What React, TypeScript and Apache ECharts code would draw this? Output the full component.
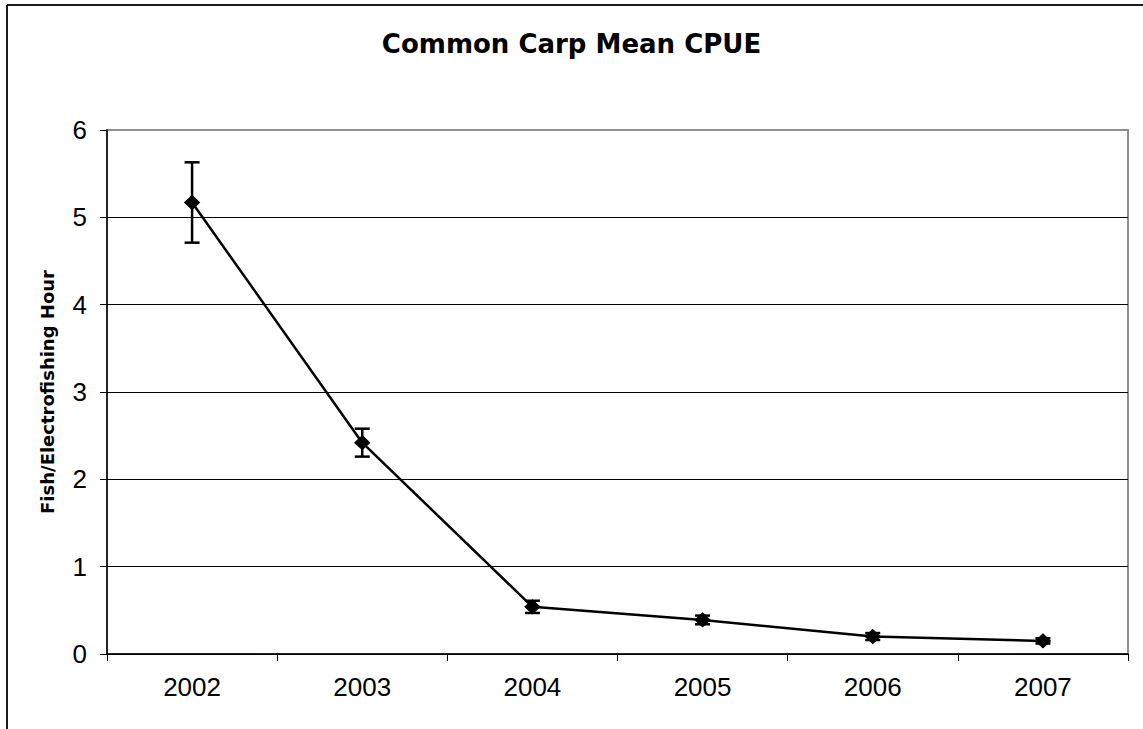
import React, { useEffect, useRef } from "react";
import * as echarts from "echarts";

const years = ["2002", "2003", "2004", "2005", "2006", "2007"];
const meanCpue = [5.17, 2.42, 0.54, 0.39, 0.2, 0.15];
const stdErr = [0.46, 0.16, 0.07, 0.05, 0.04, 0.03];
const chartTitle = "Common Carp Mean CPUE";
const yAxisTitle = "Fish/Electrofishing Hour";
const yMin = 0;
const yMax = 6;
const yStep = 1;

export default function App() {
  const ref = useRef<HTMLDivElement>(null);

  useEffect(() => {
    if (!ref.current) return;
    const chart = echarts.init(ref.current, undefined, { renderer: "svg" });
    const errData = years.map((_, i) => [i, meanCpue[i] - stdErr[i], meanCpue[i] + stdErr[i]]);

    chart.setOption({
      animation: false,
      backgroundColor: "#ffffff",
      title: {
        text: chartTitle,
        left: "center",
        top: 31,
        padding: [0, 0, 0, 14],
        textStyle: {
          fontFamily: "DejaVu Sans",
          fontWeight: "bold",
          fontSize: 26,
          color: "#000",
        },
      },
      graphic: [
        {
          type: "line",
          shape: { x1: 7, y1: 5, x2: 1143, y2: 5 },
          style: { stroke: "#1a1a1a", lineWidth: 2 },
        },
        {
          type: "line",
          shape: { x1: 7, y1: 5, x2: 7, y2: 729 },
          style: { stroke: "#1a1a1a", lineWidth: 2 },
        },
      ],
      grid: {
        left: 107,
        top: 130,
        right: 15,
        bottom: 75,
        show: true,
        borderColor: "#8f8f8f",
        borderWidth: 2,
        backgroundColor: "transparent",
      },
      xAxis: {
        type: "category",
        data: years,
        boundaryGap: true,
        axisLine: { show: true, lineStyle: { color: "#000", width: 1.5 } },
        axisTick: { show: true, length: 7, inside: false, lineStyle: { color: "#000", width: 1 } },
        axisLabel: {
          margin: 20,
          color: "#000",
          fontFamily: "Liberation Sans",
          fontSize: 26,
        },
        splitLine: { show: false },
      },
      yAxis: {
        type: "value",
        min: yMin,
        max: yMax,
        interval: yStep,
        name: yAxisTitle,
        nameLocation: "middle",
        nameRotate: 90,
        nameGap: 51,
        nameTextStyle: {
          fontFamily: "DejaVu Sans",
          fontWeight: "bold",
          fontSize: 18,
          color: "#000",
        },
        axisLine: { show: true, lineStyle: { color: "#000", width: 1.5 } },
        axisTick: { show: true, length: 7, lineStyle: { color: "#000", width: 1 } },
        axisLabel: {
          margin: 20,
          color: "#000",
          fontFamily: "Liberation Sans",
          fontSize: 26,
        },
        splitLine: {
          show: true,
          lineStyle: {
            color: ["#000", "#000", "#000", "#000", "#000", "#000", "#8f8f8f"],
            width: 1,
          },
        },
      },
      series: [
        {
          type: "custom",
          name: "error",
          data: errData,
          encode: { x: 0, y: [1, 2] },
          z: 3,
          renderItem: (params: any, api: any) => {
            const idx = api.value(0);
            const lo = api.coord([idx, api.value(1)]);
            const hi = api.coord([idx, api.value(2)]);
            const hw = 7.5;
            const st = { stroke: "#000", lineWidth: 2.5 };
            return {
              type: "group",
              children: [
                { type: "line", shape: { x1: lo[0], y1: lo[1], x2: hi[0], y2: hi[1] }, style: st },
                { type: "line", shape: { x1: hi[0] - hw, y1: hi[1], x2: hi[0] + hw, y2: hi[1] }, style: st },
                { type: "line", shape: { x1: lo[0] - hw, y1: lo[1], x2: lo[0] + hw, y2: lo[1] }, style: st },
              ],
            };
          },
        },
        {
          type: "line",
          name: "CPUE",
          data: meanCpue,
          z: 4,
          symbol: "diamond",
          symbolSize: [15, 14],
          showSymbol: true,
          lineStyle: { color: "#000", width: 2.5 },
          itemStyle: { color: "#000", borderColor: "#000" },
        },
      ],
    });

    return () => chart.dispose();
  }, []);

  return (
    <div
      ref={ref}
      style={{ position: "absolute", left: 0, top: 0, width: 1143, height: 729 }}
    />
  );
}
